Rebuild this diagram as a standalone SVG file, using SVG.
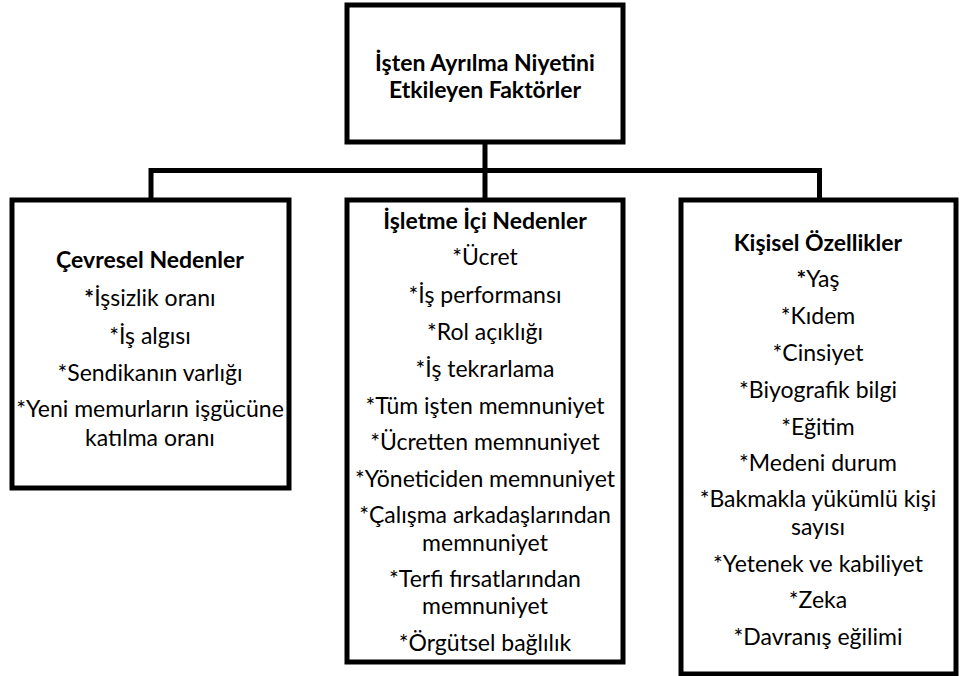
<svg xmlns="http://www.w3.org/2000/svg" width="960" height="676" viewBox="0 0 960 676">
  <style>
    .box { fill: #ffffff; stroke: #000000; stroke-width: 5; }
    .wire { fill: none; stroke: #000000; stroke-width: 5; stroke-linejoin: miter; stroke-linecap: butt; }
    text { font-family: Lato, "Liberation Sans", "Noto Sans", sans-serif; font-size: 23px; fill: #000000; text-anchor: middle; dominant-baseline: central; }
    .title { font-weight: bold; }
    .b { font-weight: bold; }
  </style>
  <rect width="960" height="676" fill="#ffffff"/>

  <!-- tree connectors -->
  <g id="connectors">
    <path class="wire" d="M485,142 V200"/>
    <path class="wire" d="M151,200 V170.5 H819.5 V200"/>
  </g>

  <!-- root -->
  <g id="root">
    <rect class="box" x="347" y="5" width="276" height="137"/>
    <text class="title" x="485" y="62">İşten Ayrılma Niyetini</text>
    <text class="title" x="485" y="89">Etkileyen Faktörler</text>
  </g>

  <!-- environmental causes -->
  <g id="cevresel">
    <rect class="box" x="12" y="200" width="277" height="288"/>
    <text class="title" x="150" y="259">Çevresel Nedenler</text>
    <text x="150" y="297"><tspan class="b">*</tspan>İşsizlik oranı</text>
    <text x="150" y="335">*İş algısı</text>
    <text x="150" y="372">*Sendikanın varlığı</text>
    <text x="150" y="408">*Yeni memurların işgücüne</text>
    <text x="150" y="437">katılma oranı</text>
  </g>

  <!-- organisational causes -->
  <g id="isletme">
    <rect class="box" x="347" y="200" width="276" height="462"/>
    <text class="title" x="485" y="220">İşletme İçi Nedenler</text>
    <text x="485" y="256">*Ücret</text>
    <text x="485" y="294">*İş performansı</text>
    <text x="485" y="331">*Rol açıklığı</text>
    <text x="485" y="368">*İş tekrarlama</text>
    <text x="485" y="405">*Tüm işten memnuniyet</text>
    <text x="485" y="441">*Ücretten memnuniyet</text>
    <text x="485" y="478">*Yöneticiden memnuniyet</text>
    <text x="485" y="514">*Çalışma arkadaşlarından</text>
    <text x="485" y="542">memnuniyet</text>
    <text x="485" y="578">*Terfi fırsatlarından</text>
    <text x="485" y="605">memnuniyet</text>
    <text x="485" y="642">*Örgütsel bağlılık</text>
  </g>

  <!-- personal traits -->
  <g id="kisisel">
    <rect class="box" x="681" y="200" width="275" height="474"/>
    <text class="title" x="818" y="242">Kişisel Özellikler</text>
    <text x="818" y="278"><tspan class="b">*</tspan>Yaş</text>
    <text x="818" y="315">*Kıdem</text>
    <text x="818" y="352">*Cinsiyet</text>
    <text x="818" y="389">*Biyografik bilgi</text>
    <text x="818" y="426">*Eğitim</text>
    <text x="818" y="462">*Medeni durum</text>
    <text x="818" y="498">*Bakmakla yükümlü kişi</text>
    <text x="818" y="526">sayısı</text>
    <text x="818" y="563">*Yetenek ve kabiliyet</text>
    <text x="818" y="599">*Zeka</text>
    <text x="818" y="636">*Davranış eğilimi</text>
  </g>
</svg>
